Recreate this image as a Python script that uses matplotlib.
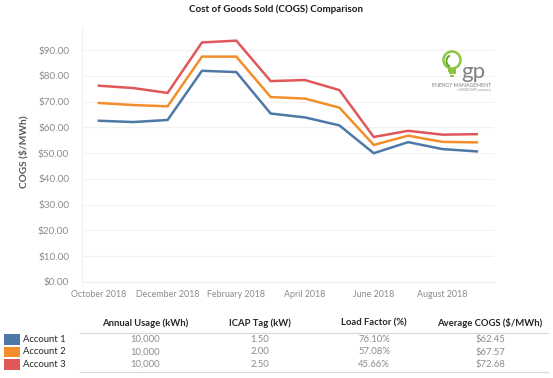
import matplotlib
matplotlib.use("Agg")
import matplotlib.pyplot as plt
from matplotlib.patches import Rectangle, Circle, Arc
from matplotlib.lines import Line2D
import numpy as np

plt.rcParams['font.family'] = ['Lato', 'DejaVu Sans']

months = ["October 2018", "November 2018", "December 2018", "January 2018",
          "February 2018", "March 2018", "April 2018", "May 2018",
          "June 2018", "July 2018", "August 2018", "September 2018"]
account1 = [62.6, 62.1, 62.9, 82.0, 81.5, 65.4, 63.9, 60.8, 50.0, 54.3, 51.6, 50.7]
account2 = [69.5, 68.7, 68.2, 87.5, 87.5, 71.8, 71.2, 67.7, 53.2, 56.8, 54.4, 54.2]
account3 = [76.2, 75.3, 73.4, 93.0, 93.7, 78.0, 78.4, 74.5, 56.3, 58.7, 57.2, 57.4]

account_names = ["Account 1", "Account 2", "Account 3"]
colors = ["#4E79A7", "#F28E2B", "#E15759"]
headers = ["Annual Usage (kWh)", "ICAP Tag (kW)", "Load Factor (%)", "Average COGS ($/MWh)"]
annual_usage = ["10,000", "10,000", "10,000"]
icap_tag = ["1.50", "2.00", "2.50"]
load_factor = ["76.10%", "57.08%", "45.66%"]
avg_cogs = ["$62.45", "$67.57", "$72.68"]
yticks = [0, 10, 20, 30, 40, 50, 60, 70, 80, 90]

W, H = 553, 378
fig = plt.figure(figsize=(W / 100, H / 100), dpi=100)

def fx(x):
    return x / W

def fy(y):
    return 1 - y / H

ax = fig.add_axes([fx(81.7), fy(282), fx(494) - fx(81.7), fy(27) - fy(282)])
x = np.arange(len(months))
for vals, c in zip([account1, account2, account3], colors):
    ax.plot(x, vals, color=c, lw=1.8, solid_joinstyle='miter')

ax.set_xlim(-0.5, len(months) - 0.5)
ax.set_ylim(0, 99)
ax.set_yticks(yticks)
ax.set_yticklabels([f"${v:.2f}" for v in yticks])
ax.set_xticks(x[::2])
ax.set_xticklabels(months[::2])
ax.tick_params(axis='both', length=0, colors='#8c8c8c', labelsize=6.4)
ax.tick_params(axis='y', pad=9, labelsize=7.2)
ax.tick_params(axis='x', pad=6)
ax.grid(axis='y', color='#f2f2f2', lw=0.8)
ax.set_axisbelow(True)
for s in ['top', 'right']:
    ax.spines[s].set_visible(False)
ax.spines['left'].set_color('#f0f0f0')
ax.spines['bottom'].set_color('#eeeeee')
ax.spines['left'].set_linewidth(0.8)
ax.spines['bottom'].set_linewidth(0.8)

fig.text(fx(276), fy(9.5), "Cost of Goods Sold (COGS) Comparison", ha='center', va='center',
         fontsize=7.0, fontweight='bold', color='#1a1a1a')
fig.text(fx(23.5), fy(152), "COGS ($/MWh)", rotation=90, ha='center', va='center',
         fontsize=7.3, fontweight='bold', color='#595959')

# logo
lax = fig.add_axes([0, 0, 1, 1], facecolor='none')
lax.set_xlim(0, W)
lax.set_ylim(H, 0)
lax.axis('off')
green = '#8CC63F'
lax.add_patch(Circle((452, 60), 8.5, fill=False, ec=green, lw=1.8))
lax.add_patch(Arc((451, 61), 9, 11, theta1=100, theta2=260, ec='#5aa02c', lw=1.3))
lax.add_patch(Rectangle((448, 68.5), 8, 3, color=green, lw=0))
lax.add_patch(Rectangle((448.5, 72.3), 7, 2, color=green, lw=0))
lax.add_patch(Rectangle((450, 75.2), 4, 1.5, color=green, lw=0))
lax.text(461.5, 78, "gp", fontsize=16, color='#808080', ha='left', va='baseline')
lax.text(491.5, 85.5, "ENERGY MANAGEMENT", fontsize=3.7, color='#7a7a7a', ha='right', va='center')
lax.text(491.5, 90.5, "a SENDCAPE company", fontsize=2.4, color='#9a9a9a', ha='right', va='center')

# table
col_x = [145, 259.5, 374, 490]
header_y = 323
row_y = [339.5, 352, 364.3]
for cx, h in zip(col_x, headers):
    lax.text(cx, header_y, h, ha='center', va='center', fontsize=6.8,
             fontweight='bold', color='#262626')
lax.add_line(Line2D([79.5, 547.5], [332.5, 332.5], color='#d9d9d9', lw=0.9))
lax.add_line(Line2D([79.5, 547.5], [371.5, 371.5], color='#d9d9d9', lw=0.9))
for i, (name, c) in enumerate(zip(account_names, colors)):
    y = row_y[i]
    lax.add_patch(Rectangle((3.5, y - 5.2), 16, 10.4, color=c, lw=0))
    lax.text(23, y, name, ha='left', va='center', fontsize=6.8, color='#262626')
    for cx, col in zip(col_x, [annual_usage, icap_tag, load_factor, avg_cogs]):
        lax.text(cx, y, col[i], ha='center', va='center', fontsize=6.8, color='#8c8c8c')

fig.savefig("out.png", dpi=100, facecolor='white')
